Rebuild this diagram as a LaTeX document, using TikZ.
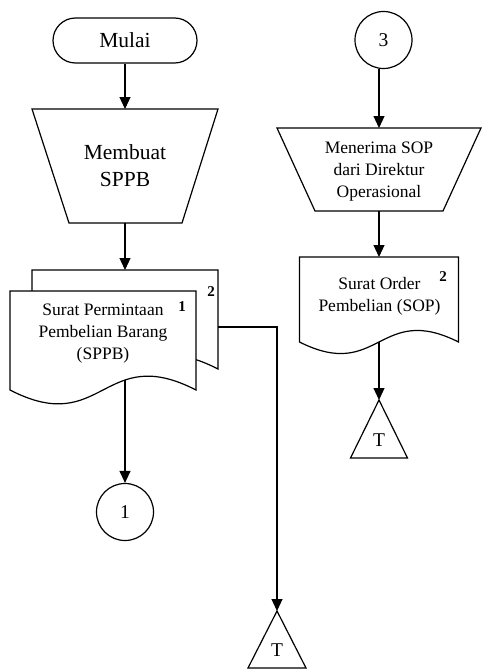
\documentclass[tikz,border=0pt]{standalone}
\usepackage{fontspec}
\setmainfont{Liberation Serif}
\usetikzlibrary{arrows.meta,calc}
\begin{document}
\begin{tikzpicture}[x=1pt,y=-1pt,
  ln/.style={line width=1.2pt},
  arr/.style={ln, -{Triangle[length=12pt,width=11pt]}},
  bx/.style={draw=none, inner sep=0pt, outer sep=0pt},
  bigtxt/.style={font=\fontsize{21.5}{27}\selectfont, align=center, inner sep=0pt},
  smalltxt/.style={font=\fontsize{17.5}{22}\selectfont, align=center, inner sep=0pt},
  numtxt/.style={font=\bfseries\fontsize{15}{15}\selectfont, inner sep=0pt},
  conn/.style={circle, draw, ln, minimum size=57pt, inner sep=0pt, font=\fontsize{19.5}{19.5}\selectfont},
  terminal/.style={draw, ln, rounded corners=22.5pt, minimum width=144pt, minimum height=45pt, inner sep=0pt, font=\fontsize{21.5}{21.5}\selectfont},
  ttxt/.style={font=\fontsize{19.5}{19.5}\selectfont, inner sep=0pt}
]
\useasboundingbox (0,0) rectangle (482,669);
% invisible frames of the shapes
\node[bx, minimum width=186pt, minimum height=99pt] (sppb2) at (125,319.5) {};
\node[bx, minimum width=186pt, minimum height=99pt] (sppb) at (103,340.5) {};
\node[bx, minimum width=159pt, minimum height=85pt] (sop) at (379,299.5) {};
\node[bx, minimum width=186pt, minimum height=114pt] (trap1) at (125,166) {};
\node[bx, minimum width=204pt, minimum height=83pt] (trap2) at (379,169.5) {};
\node[terminal] (start) at (125,40.5) {Mulai};
\node[conn] (c1) at (125,512) {1};
\node[conn] (c3) at (383.5,40) {3};
\coordinate (tri1top) at (277,611);
\coordinate (tri2top) at (379,400);

% connector hidden behind the document at its start
\draw[arr] (sppb.center -| c1.north) -- (c1.north);

% documents
\draw[ln, fill=white] (sppb2.north west) -- (sppb2.north east) -- (sppb2.south east)
  .. controls ($(sppb2.south)+(0,-48)$) and ($(sppb2.south)+(0,48)$) .. (sppb2.south west) -- cycle;
\draw[ln, fill=white] (sppb.north west) -- (sppb.north east) -- (sppb.south east)
  .. controls ($(sppb.south)+(0,-48)$) and ($(sppb.south)+(0,48)$) .. (sppb.south west) -- cycle;
\draw[ln, fill=white] (sop.north west) -- (sop.north east) -- (sop.south east)
  .. controls ($(sop.south)+(0,-40)$) and ($(sop.south)+(0,40)$) .. (sop.south west) -- cycle;

% trapezoids
\draw[ln] (trap1.north west) -- (trap1.north east) -- ($(trap1.south east)+(-36,0)$)
  -- ($(trap1.south west)+(37,0)$) -- cycle;
\draw[ln] (trap2.north west) -- (trap2.north east) -- ($(trap2.south east)+(-38,0)$)
  -- ($(trap2.south west)+(38,0)$) -- cycle;

% off-page triangles
\draw[ln] (tri1top) -- ++(29,57) -- ++(-58,0) -- cycle;
\draw[ln] (tri2top) -- ++(28.5,58) -- ++(-57,0) -- cycle;
\node[ttxt] (tri1) at (277,650) {T};
\node[ttxt] (tri2) at (379,440) {T};

% texts
\node[bigtxt] (trap1txt) at (125,166) {Membuat\\SPPB};
\node[smalltxt] (trap2txt) at (379,172) {Menerima SOP\\dari Direktur\\Operasional};
\node[smalltxt] (sppbtxt) at (103,333.5) {Surat Permintaan\\Pembelian Barang\\(SPPB)};
\node[smalltxt] (soptxt) at (379.5,296) {Surat Order\\Pembelian (SOP)};
\node[numtxt] (n1) at (182,307) {1};
\node[numtxt] (n2) at (211,292) {2};
\node[numtxt] (n3) at (443,277) {2};

% connectors
\draw[arr] (start) -- (trap1.north);
\draw[arr] (trap1.south) -- (sppb2.north);
\draw[arr] ($(sppb2.east)+(0,7.5)$) -| (tri1top);
\draw[arr] (c3.south -| trap2.north) -- (trap2.north);
\draw[arr] (trap2.south) -- (sop.north);
\draw[arr] (sop.south) -- (tri2top);
\end{tikzpicture}
\end{document}
